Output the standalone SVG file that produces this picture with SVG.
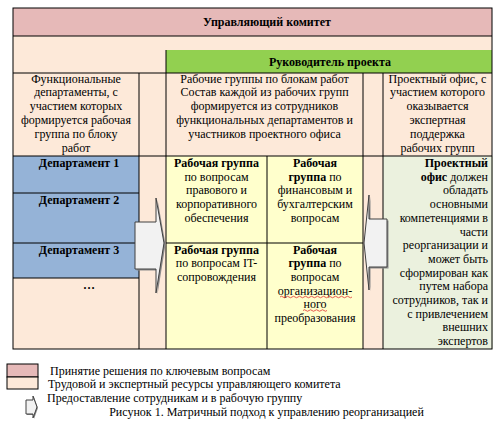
<svg xmlns="http://www.w3.org/2000/svg" width="504" height="426" viewBox="0 0 504 426">
<style>
text{font-family:"Liberation Serif","Times New Roman",serif;font-size:12px;fill:#000}
.b{font-weight:bold}
.c{text-anchor:middle}
.e{text-anchor:end}
.ln{stroke:#000;stroke-width:1;fill:none}
.pink{fill:#E6B9B8}
.beige{fill:#FDE9D9}
.green{fill:#92D050}
.blue{fill:#95B3D7}
.yel{fill:#FFFFCC}
.lg{fill:#EBF1DE}
.arr{fill:#F2F2F2;stroke:#404040;stroke-width:1}
.sh{fill:#8C8C8C}
.wave{fill:none;stroke:#E03030;stroke-width:0.8}
</style>
<rect width="504" height="426" fill="#fff"/>
<g id="committee">
<rect class="pink" x="13" y="8" width="479" height="28"/>
<text class="b c" x="267" y="26">Управляющий комитет</text>
</g>
<g id="resource-band">
<rect class="beige" x="13" y="36" width="479" height="37"/>
</g>
<g id="project-lead">
<rect class="green" x="166" y="50" width="326" height="23"/>
<text class="b c" x="330" y="65.5">Руководитель проекта</text>
</g>
<g id="row-desc">
<rect class="beige" x="13" y="73" width="479" height="83"/>
<text class="c"><tspan x="76" y="82.5">Функциональные</tspan><tspan x="76" dy="13.9">департаменты, с</tspan><tspan x="76" dy="13.9">участием которых</tspan><tspan x="76" dy="13.9">формируется рабочая</tspan><tspan x="76" dy="13.9">группа по блоку</tspan><tspan x="76" dy="13.9">работ</tspan></text>
<text class="c"><tspan x="264.5" y="82.5">Рабочие группы по блокам работ</tspan><tspan x="264.5" dy="13.9">Состав каждой из рабочих групп</tspan><tspan x="264.5" dy="13.9">формируется из сотрудников</tspan><tspan x="264.5" dy="13.9">функциональных департаментов и</tspan><tspan x="264.5" dy="13.9">участников проектного офиса</tspan></text>
<text class="c"><tspan x="437.5" y="82.5">Проектный офис, с</tspan><tspan x="437.5" dy="13.9">участием которого</tspan><tspan x="437.5" dy="13.9">оказывается</tspan><tspan x="437.5" dy="13.9">экспертная</tspan><tspan x="437.5" dy="13.9">поддержка</tspan><tspan x="437.5" dy="13.9">рабочих групп</tspan></text>
</g>
<g id="departments">
<rect class="blue" x="13" y="156" width="126" height="122"/>
<rect class="beige" x="13" y="278" width="126" height="71"/>
<text class="b c" x="79" y="167">Департамент 1</text>
<text class="b c" x="79" y="203.5">Департамент 2</text>
<text class="b c" x="79" y="253.5">Департамент 3</text>
<text class="b c" x="89" y="289">…</text>
</g>
<g id="gap-left"><rect class="beige" x="139" y="156" width="27" height="193"/></g>
<g id="gap-right"><rect class="beige" x="363" y="156" width="20" height="193"/></g>
<g id="wg-legal">
<rect class="yel" x="166" y="156" width="101" height="87"/>
<text class="c"><tspan class="b" x="216.5" y="167">Рабочая группа</tspan><tspan x="216.5" dy="13.7">по вопросам</tspan><tspan x="216.5" dy="13.7">правового и</tspan><tspan x="216.5" dy="13.7">корпоративного</tspan><tspan x="216.5" dy="13.7">обеспечения</tspan></text>
</g>
<g id="wg-finance">
<rect class="yel" x="267" y="156" width="96" height="87"/>
<text class="c"><tspan class="b" x="315" y="167">Рабочая</tspan><tspan x="315" dy="13.7"><tspan class="b">группа</tspan> по</tspan><tspan x="315" dy="13.7">финансовым и</tspan><tspan x="315" dy="13.7">бухгалтерским</tspan><tspan x="315" dy="13.7">вопросам</tspan></text>
</g>
<g id="wg-it">
<rect class="yel" x="166" y="243" width="101" height="106"/>
<text class="c"><tspan class="b" x="216.5" y="253.5">Рабочая группа</tspan><tspan x="216.5" dy="13.7">по вопросам IT-</tspan><tspan x="216.5" dy="13.7">сопровождения</tspan></text>
</g>
<g id="wg-org">
<rect class="yel" x="267" y="243" width="96" height="106"/>
<text class="c"><tspan class="b" x="315" y="253.5">Рабочая</tspan><tspan x="315" dy="13.7"><tspan class="b">группа</tspan> по</tspan><tspan x="315" dy="13.7">вопросам</tspan><tspan x="315" dy="13.7">организацион-</tspan><tspan x="315" dy="13.7">ного</tspan><tspan x="315" dy="13.7">преобразования</tspan></text>
<path class="wave" d="M280,297 q1.5,-1.5 3,0 t3,0 t3,0 t3,0 t3,0 t3,0 t3,0 t3,0 t3,0 t3,0 t3,0 t3,0 t3,0 t3,0 t3,0 t3,0 t3,0 t3,0 t3,0 t3,0 t3,0 t3,0 t3,0 t3,0"/>
<path class="wave" d="M303,310.5 q1.5,-1.5 3,0 t3,0 t3,0 t3,0 t3,0 t3,0 t3,0 t3,0"/>
</g>
<g id="project-office">
<rect class="lg" x="383" y="156" width="110" height="193"/>
<text class="e"><tspan class="b" x="488" y="167">Проектный</tspan><tspan x="488" dy="13.7"><tspan class="b">офис</tspan> должен</tspan><tspan x="488" dy="13.7">обладать</tspan><tspan x="488" dy="13.7">основными</tspan><tspan x="488" dy="13.7">компетенциями в</tspan><tspan x="488" dy="13.7">части</tspan><tspan x="488" dy="13.7">реорганизации и</tspan><tspan x="488" dy="13.7">может быть</tspan><tspan x="488" dy="13.7">сформирован как</tspan><tspan x="488" dy="13.7">путем набора</tspan><tspan x="488" dy="13.7">сотрудников, так и</tspan><tspan x="488" dy="13.7">с привлечением</tspan><tspan x="488" dy="13.7">внешних</tspan><tspan x="488" dy="13.7">экспертов</tspan></text>
</g>
<g id="grid">
<rect class="ln" x="13" y="8" width="479" height="341"/>
<line class="ln" x1="13" y1="36" x2="492" y2="36"/>
<line class="ln" x1="166" y1="50" x2="166" y2="349"/>
<line class="ln" x1="13" y1="73" x2="492" y2="73"/>
<line class="ln" x1="139" y1="73" x2="139" y2="349"/>
<line class="ln" x1="363" y1="73" x2="363" y2="349"/>
<line class="ln" x1="383" y1="73" x2="383" y2="349"/>
<line class="ln" x1="13" y1="156" x2="492" y2="156"/>
<line class="ln" x1="13" y1="193" x2="139" y2="193"/>
<line class="ln" x1="13" y1="243" x2="139" y2="243"/>
<line class="ln" x1="13" y1="278" x2="139" y2="278"/>
<line class="ln" x1="166" y1="243" x2="363" y2="243"/>
<line class="ln" x1="267" y1="156" x2="267" y2="349"/>
</g>
<g id="connectors">
<path class="sh" d="M136.5,223.5 H157.5 V199.5 L165.5,244.5 L157.5,294.5 V270.5 H136.5 Z"/>
<path class="arr" d="M135,222 H156 V198 L164,243 L156,293 V269 H135 Z"/>
<path class="sh" d="M365.5,244.5 L370.5,196.5 V220.5 H388.5 V268.5 H370.5 V291.5 Z"/>
<path class="arr" d="M364,243 L369,195 V219 H387 V267 H369 V290 Z"/>
</g>
<g id="legend">
<rect class="pink" x="7" y="364" width="31" height="13" stroke="#000" stroke-width="1"/>
<rect class="beige" x="7" y="377" width="31" height="12" stroke="#000" stroke-width="1"/>
<path class="sh" d="M27,401 H34 V397 L38,408 L34,419 V415 H27 Z"/>
<path class="arr" d="M26,400 H33 V396 L37,407 L33,418 V414 H26 Z"/>
<text x="50" y="374.5">Принятие решения по ключевым вопросам</text>
<text x="48" y="388">Трудовой и экспертный ресурсы управляющего комитета</text>
<text x="47" y="401.5">Предоставление сотрудникам и в рабочую группу</text>
<text class="c" x="266.5" y="415.5">Рисунок 1. Матричный подход к управлению реорганизацией</text>
</g>
</svg>
